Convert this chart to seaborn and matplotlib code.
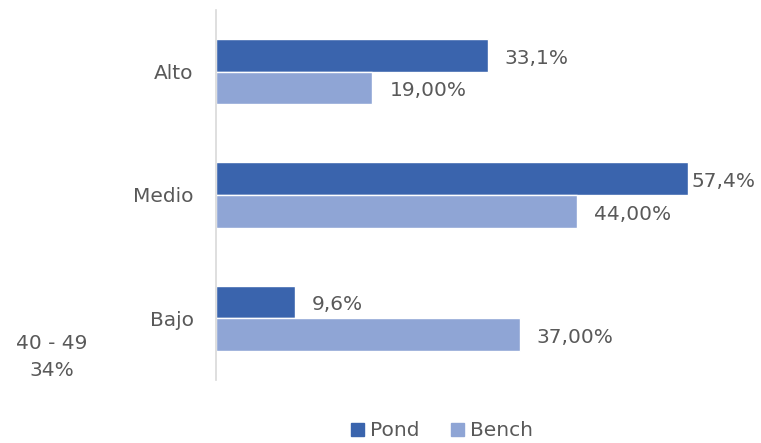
import pandas as pd
import seaborn as sns
import matplotlib.pyplot as plt
from matplotlib.patches import Patch

# datos
niveles = ["Alto", "Medio", "Bajo"]
pond = [33.1, 57.4, 9.6]
bench = [19.0, 44.0, 37.0]
etiquetas_pond = ["33,1%", "57,4%", "9,6%"]
etiquetas_bench = ["19,00%", "44,00%", "37,00%"]

df = pd.DataFrame({
    "Nivel": niveles * 2,
    "Valor": pond + bench,
    "Serie": ["Pond"] * 3 + ["Bench"] * 3,
})

sns.set_theme(style="white")
plt.rcParams["font.family"] = ["DejaVu Sans"]
gris = "#595959"
colores = {"Pond": "#3A64AD", "Bench": "#8FA5D5"}
fs = 14.5

fig = plt.figure(figsize=(7.61, 4.43), dpi=100)
ax = fig.add_axes([216 / 761, 1 - 380 / 443, 534 / 761, 370 / 443])

sns.barplot(data=df, y="Nivel", x="Valor", hue="Serie", order=niveles,
            palette=colores, width=0.53, orient="h", ax=ax, legend=False,
            saturation=1)

# etiquetas de datos (la de 57,4% queda pegada a la barra)
pads = [[12, 3, 12], [13, 12, 12]]
for cont, labs, pp in zip(ax.containers, [etiquetas_pond, etiquetas_bench], pads):
    for bar, lab, p in zip(cont, labs, pp):
        ax.annotate(lab, (bar.get_width(), bar.get_y() + bar.get_height() / 2),
                    xytext=(p, -2), textcoords="offset points", ha="left",
                    va="center", fontsize=fs, color=gris)

ax.set_xlim(0, 65)
ax.set_ylim(2.5, -0.5)
ax.set_xlabel("")
ax.set_ylabel("")
ax.set_xticks([])
ax.tick_params(axis="y", length=0, pad=16, labelsize=fs, labelcolor=gris)
for s in ["top", "right", "bottom"]:
    ax.spines[s].set_visible(False)
ax.spines["left"].set_color("#D9D9D9")
ax.spines["left"].set_linewidth(1.2)

fig.text(52 / 761, 1 - 357 / 443, "40 - 49\n34%", ha="center", va="center",
         fontsize=fs, color=gris, linespacing=1.55)

handles = [Patch(color=colores[k]) for k in ["Pond", "Bench"]]
fig.legend(handles, ["Pond", "Bench"], loc="center", ncol=2,
           bbox_to_anchor=(442 / 761, 1 - 431 / 443), frameon=False,
           fontsize=fs, labelcolor=gris, handlelength=0.65, handleheight=0.65,
           handletextpad=0.3, columnspacing=1.6)

fig.savefig("out.png", dpi=100)
